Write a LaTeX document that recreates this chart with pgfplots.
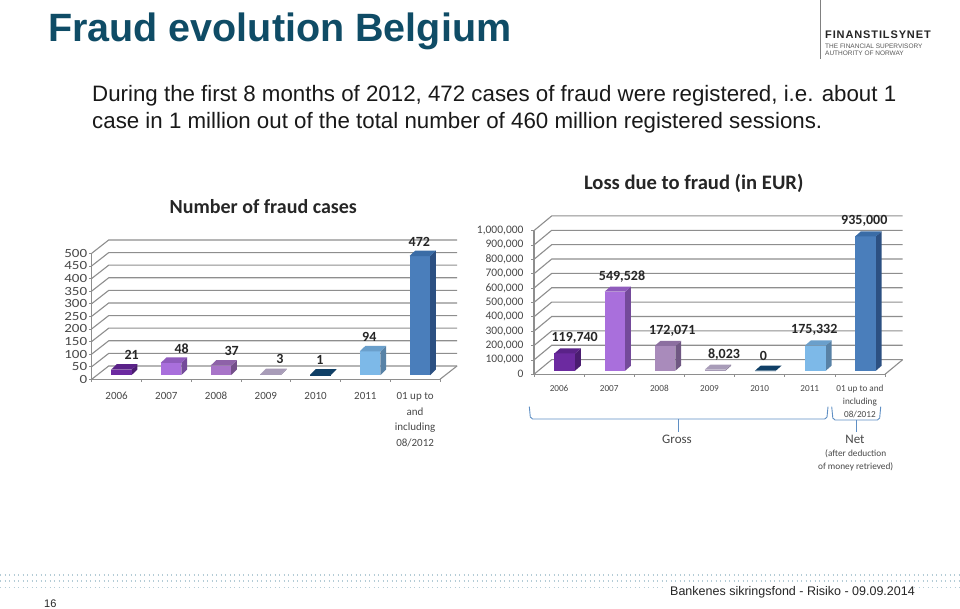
\documentclass[border=0pt]{standalone}
\usepackage{fontspec}
\setmainfont{Liberation Sans}
\newfontfamily\chartfont[Numbers=Lining]{Carlito}
\newfontfamily\chartwide[Numbers=Lining,FakeStretch=1.2]{Carlito}
\newfontfamily\logofont[LetterSpace=8]{Liberation Sans}
\usepackage{pgfplots}
\pgfplotsset{compat=1.18}
\usetikzlibrary{calc}
\definecolor{titleblue}{HTML}{0F4C66}
\definecolor{gridgray}{HTML}{8E8E8E}
\definecolor{tickgray}{HTML}{484848}
\definecolor{dotblue}{HTML}{B4CCD6}
\definecolor{bracecol}{HTML}{5F8FC4}
% bar colours: front, top, side
\definecolor{aF}{HTML}{6C2AA0}\definecolor{aT}{HTML}{5A2288}\definecolor{aS}{HTML}{4A1C70}
\definecolor{bF}{HTML}{A96FDC}\definecolor{bT}{HTML}{8F5CBC}\definecolor{bS}{HTML}{744A9A}
\definecolor{cF}{HTML}{A98BBB}\definecolor{cT}{HTML}{8C6FA0}\definecolor{cS}{HTML}{705883}
\definecolor{cG}{HTML}{A874C8}\definecolor{cH}{HTML}{8E62A8}\definecolor{cI}{HTML}{744F8A}
\definecolor{dF}{HTML}{A89CB8}\definecolor{dT}{HTML}{A89CB8}\definecolor{dS}{HTML}{8A7E9A}
\definecolor{eF}{HTML}{0F3F66}\definecolor{eT}{HTML}{0F3F66}\definecolor{eS}{HTML}{0B2F4E}
\definecolor{fF}{HTML}{7DB9E8}\definecolor{fT}{HTML}{6A9FCB}\definecolor{fS}{HTML}{5882A6}
\definecolor{gF}{HTML}{4A7EBB}\definecolor{gT}{HTML}{3A6CA6}\definecolor{gS}{HTML}{2C5082}

\newcommand\fpcalc[2]{\begingroup\pgfkeys{/pgf/fpu=true,/pgf/fpu/output format=fixed}\pgfmathparse{#2}\xdef#1{\pgfmathresult}\endgroup}

% one 3D column: category, value, front, top, side
\newcommand\barbox[5]{%
 \fpcalc\xa{#1+\bx-\bw/2}\fpcalc\xb{#1+\bx+\bw/2}%
 \fpcalc\xc{#1+\bx+\bw/2+\dx}\fpcalc\xd{#1+\bx-\bw/2+\dx}%
 \fpcalc\ya{\by}\fpcalc\yb{\by+#2}\fpcalc\yc{\by+#2+\dy}\fpcalc\yd{\by+\dy}%
 \edef\tmp{%
 \noexpand\addplot[fill=#5,draw=none,forget plot] coordinates {(\xb,\ya)(\xc,\yd)(\xc,\yc)(\xb,\yb)};
 \noexpand\addplot[fill=#3,draw=none,forget plot] coordinates {(\xa,\ya)(\xb,\ya)(\xb,\yb)(\xa,\yb)};
 \noexpand\addplot[fill=#4,draw=none,forget plot] coordinates {(\xa,\yb)(\xb,\yb)(\xc,\yc)(\xd,\yc)};
 }\tmp}

% back wall line with its slanted part, and the y tick
\newcommand\wall[1]{%
 \fpcalc\xb{-0.5+\gx}\fpcalc\xc{6.5+\gx}\fpcalc\yb{#1+\gy}%
 \edef\tmp{%
 \noexpand\addplot[gridgray,line width=1.1pt,forget plot] coordinates {(-0.5,#1)(\xb,\yb)(\xc,\yb)};
 \noexpand\draw[gridgray,line width=0.7pt] (axis cs:-0.5,#1) -- ++(-3pt,0pt);
 }\tmp}

\newcommand\floorline{%
 \fpcalc\xb{-0.5+\gx}\fpcalc\xc{6.5+\gx}\fpcalc\yb{\gy}%
 \edef\tmp{%
 \noexpand\addplot[gridgray,line width=1.1pt,forget plot] coordinates {(6.5,0)(\xc,\yb)};
 }\tmp
 \pgfplotsinvokeforeach{-0.5,0.5,1.5,2.5,3.5,4.5,5.5,6.5}{\draw[gridgray,line width=0.7pt] (axis cs:##1,0) -- ++(0pt,-3pt);}}

\pgfplotsset{fraud/.style={
 scale only axis, clip=false, xmin=-0.5, xmax=6.5, ymin=0,
 axis x line*=bottom, axis y line*=left,
 axis line style={gridgray,line width=1.1pt,-},
 tick style={draw=none}, major tick length=0pt,
 xtick={0,1,2,3,4,5,6}, scaled y ticks=false,
 tick label style={tickgray},
}}

\begin{document}
\begin{tikzpicture}[x=1pt,y=1pt]
\path[use as bounding box,fill=white] (0,0) rectangle (960,609);

% ===== left chart =====
\def\bx{0.096}\def\bw{0.416}\def\by{17}\def\dx{0.115}\def\dy{22}\def\gx{0.342}\def\gy{52.8}
\begin{axis}[fraud, at={(91.7pt,229.7pt)}, anchor=south west,
 width=348.3pt, height=126pt, ymax=500,
 ytick={0,50,100,150,200,250,300,350,400,450,500},
 yticklabels={0,50,100,150,200,250,300,350,400,450,500},
 yticklabel style={font=\chartwide\fontsize{12.5}{13}\selectfont, xshift=-1pt, inner ysep=0pt},
 xticklabel style={font=\chartfont\fontsize{11}{15.7}\selectfont, align=center, yshift=-9.5pt},
 xticklabels={2006,2007,2008,2009,2010,2011,{01 up to\\and\\including\\08/2012}},
]
\pgfplotsforeachungrouped \v in {0,50,100,150,200,250,300,350,400,450,500}{\wall{\v}}
\floorline
\barbox{0}{21}{aF}{aT}{aS}
\barbox{1}{48}{bF}{bT}{bS}
\barbox{2}{37}{cG}{cH}{cI}
\barbox{3}{3}{dF}{dT}{dS}
\barbox{4}{1}{eF}{eT}{eS}
\barbox{5}{94}{fF}{fT}{fS}
\barbox{6}{472}{gF}{gT}{gS}
\end{axis}

% ===== right chart =====
\def\bx{0.113}\def\bw{0.413}\def\by{25000}\def\dx{0.114}\def\dy{35000}\def\gx{0.353}\def\gy{102000}
\begin{axis}[fraud, at={(534pt,234.7pt)}, anchor=south west,
 width=351pt, height=143.7pt, ymax=1000000,
 ytick={0,100000,200000,300000,400000,500000,600000,700000,800000,900000,1000000},
 yticklabels={0,{100,000},{200,000},{300,000},{400,000},{500,000},{600,000},{700,000},{800,000},{900,000},{1,000,000}},
 yticklabel style={font=\chartfont\fontsize{11.5}{13}\selectfont, xshift=-7pt, inner ysep=0pt},
 xticklabel style={font=\chartfont\fontsize{9.2}{12.8}\selectfont, align=center, yshift=-7.5pt},
 xticklabels={2006,2007,2008,2009,2010,2011,{01 up to and\\including\\08/2012}},
]
\pgfplotsforeachungrouped \v in {0,100000,200000,300000,400000,500000,600000,700000,800000,900000,1000000}{\wall{\v}}
\floorline
\barbox{0}{119740}{aF}{aT}{aS}
\barbox{1}{549528}{bF}{bT}{bS}
\barbox{2}{172071}{cF}{cT}{cS}
\barbox{3}{8023}{dF}{dT}{dS}
\barbox{4}{0}{eF}{eT}{eS}
\barbox{5}{175332}{fF}{fT}{fS}
\barbox{6}{935000}{gF}{gT}{gS}
\end{axis}

% ===== slide furniture, y measured from the top =====
\begin{scope}[shift={(0,609)},y=-1pt]
\node[anchor=base west,inner sep=0,text=titleblue,font=\bfseries\fontsize{39.5}{42}\selectfont] at (48,42) {Fraud evolution Belgium};
\node[anchor=base west,inner sep=0,font=\fontsize{22.3}{24}\selectfont,text=black!90] at (92,102) {During the first 8 months of 2012, 472 cases of fraud were registered, i.e. about 1};
\node[anchor=base west,inner sep=0,font=\fontsize{22.3}{24}\selectfont,text=black!90] at (92,129) {case in 1 million out of the total number of 460 million registered sessions.};

% logo
\draw[gray,line width=1.2pt] (820.7,0) -- (820.7,59);
\node[anchor=west,inner sep=0,font=\logofont\bfseries\fontsize{11}{12}\selectfont,text=black!85] at (825,35) {FINANSTILSYNET};
\node[anchor=west,inner sep=0,font=\fontsize{6.5}{8}\selectfont,text=black!65] at (825,46) {THE FINANCIAL SUPERVISORY};
\node[anchor=west,inner sep=0,font=\fontsize{6.5}{8}\selectfont,text=black!65] at (825,53.5) {AUTHORITY OF NORWAY};

% chart titles
\node[font=\chartfont\bfseries\fontsize{20}{24}\selectfont,text=black!85,inner sep=0] at (263.3,206.7) {Number of fraud cases};
\node[font=\chartfont\bfseries\fontsize{20.6}{24}\selectfont,text=black!85,inner sep=0] at (693.7,183.3) {Loss due to fraud (in EUR)};

% value labels left
\tikzset{val/.style={font=\chartfont\bfseries\fontsize{14}{15}\selectfont,text=black!85,inner sep=0}}
\node[val] at (131.7,355) {21};
\node[val] at (181.7,348.3) {48};
\node[val] at (231.7,351) {37};
\node[val] at (280,359.3) {3};
\node[val] at (320,360) {1};
\node[val] at (369.3,336.7) {94};
\node[val] at (419.3,242.3) {472};
% value labels right
\node[val] at (574.7,338.3) {119,740};
\node[val] at (622,276.7) {549,528};
\node[val] at (672.3,331) {172,071};
\node[val] at (724,354.3) {8,023};
\node[val] at (763.3,355.7) {0};
\node[val] at (814.3,330.3) {175,332};
\node[val] at (864.3,221) {935,000};

% braces
\draw[bracecol,line width=0.9pt,rounded corners=2pt] (529.3,406.7) -- (530.5,419) -- (826.8,419) -- (828,406.7);
\draw[bracecol,line width=0.9pt] (678,419) -- (678,431.7);
\draw[bracecol,line width=0.9pt,rounded corners=2pt] (831.7,406.7) -- (833,420) -- (879.5,420) -- (880.7,406.7);
\draw[bracecol,line width=0.9pt] (856,420) -- (856,431.7);
\node[font=\chartfont\fontsize{13}{15}\selectfont,text=tickgray,inner sep=0] at (677,439.3) {Gross};
\node[font=\chartfont\fontsize{13}{15}\selectfont,text=tickgray,inner sep=0] at (855,439.3) {Net};
\node[font=\chartfont\fontsize{9.3}{12}\selectfont,text=tickgray,inner sep=0] at (855.7,454) {(after deduction};
\node[font=\chartfont\fontsize{9.3}{12}\selectfont,text=tickgray,inner sep=0] at (855.7,466.7) {of money retrieved)};

% footer
\draw[dotblue,line width=1.1pt,dash pattern=on 1.1pt off 3.4pt] (0,575) -- (960,575);
\draw[dotblue,line width=1.1pt,dash pattern=on 1.1pt off 3.4pt] (0,581) -- (960,581);
\draw[dotblue,line width=1.1pt,dash pattern=on 1.1pt off 3.4pt] (0,587.5) -- (665,587.5);
\draw[dotblue,line width=1.1pt,dash pattern=on 1.1pt off 3.4pt] (914,587.5) -- (960,587.5);
\node[anchor=west,inner sep=0,font=\fontsize{12.5}{14}\selectfont,text=black!85] at (670,592.5) {Bankenes sikringsfond - Risiko - 09.09.2014};
\node[anchor=west,inner sep=0,font=\fontsize{11}{14}\selectfont,text=black!85] at (44,604) {16};
\end{scope}
\end{tikzpicture}
\end{document}
